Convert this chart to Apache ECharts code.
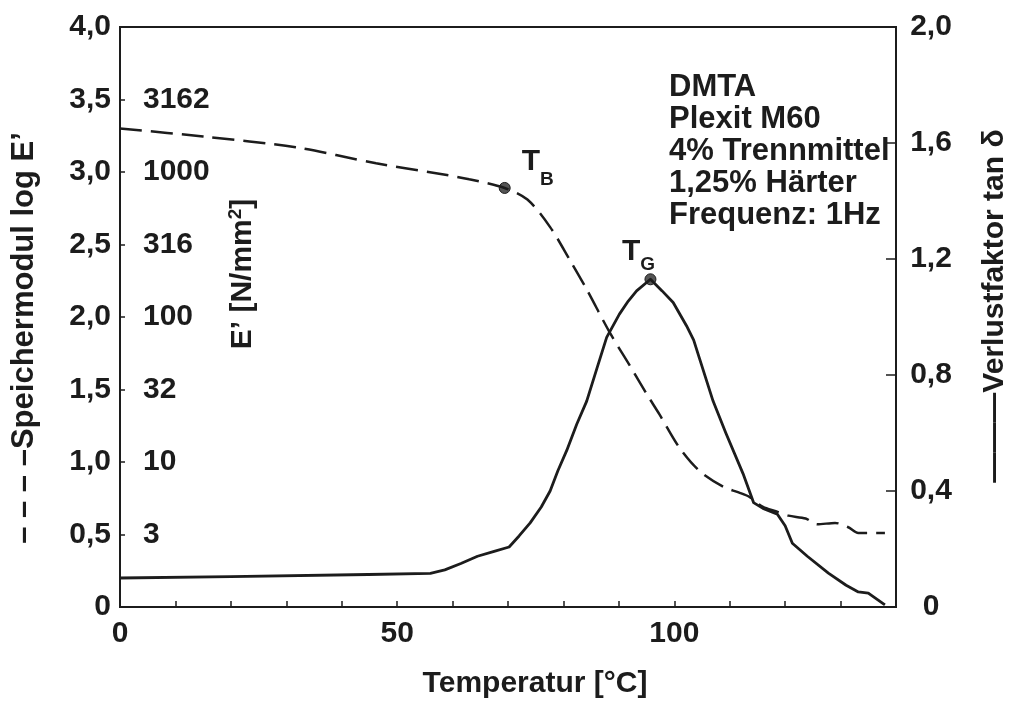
<!DOCTYPE html>
<html>
<head>
<meta charset="utf-8">
<script src="https://cdn.jsdelivr.net/npm/echarts@6/dist/echarts.min.js"></script>
<style>html,body{margin:0;padding:0;background:#fff}#c{width:1018px;height:707px}</style>
</head>
<body>
<div id="c"></div>
<script>
// ---- data ----
const tempE = [0, 15, 31.7, 46.2, 57.3, 63, 69.4, 73.5, 77.6, 81.2, 84.2, 88.4, 91.9, 95, 97.3, 100.9, 104.5, 108.8, 111.6, 113.5, 116, 118.3, 120.6, 123.7, 125.8, 129, 131.4, 133.2, 138];
const logE  = [3.30, 3.245, 3.17, 3.06, 2.99, 2.95, 2.89, 2.81, 2.62, 2.39, 2.19, 1.89, 1.67, 1.47, 1.33, 1.10, 0.94, 0.83, 0.79, 0.76, 0.69, 0.66, 0.63, 0.61, 0.57, 0.58, 0.55, 0.51, 0.51];
const tempT = [0, 20, 44.8, 56, 58.6, 61.5, 64.5, 67.5, 70.2, 72, 74, 76, 77.6, 79, 80.6, 82.4, 84.2, 86, 87.8, 90.1, 91.7, 93.2, 95.7, 97.8, 99.8, 102.2, 103.5, 104.5, 107, 109.3, 112.4, 114.3, 116, 118.6, 120, 121.3, 124, 127.8, 131, 133.2, 135, 138];
const tanD  = [0.10, 0.105, 0.112, 0.116, 0.128, 0.150, 0.175, 0.192, 0.207, 0.245, 0.29, 0.345, 0.40, 0.47, 0.54, 0.63, 0.71, 0.82, 0.93, 1.01, 1.055, 1.09, 1.13, 1.09, 1.05, 0.97, 0.92, 0.86, 0.71, 0.60, 0.46, 0.36, 0.34, 0.32, 0.28, 0.22, 0.175, 0.117, 0.075, 0.052, 0.048, 0.007];
const pointTB = [69.4, 2.89];
const pointTG = [95.7, 1.13];
const eModulLabels = ['', '3', '10', '32', '100', '316', '1000', '3162', ''];
const xLabelValues = [0, 50, 100];
const infoLines = ['DMTA', 'Plexit M60', '4% Trennmittel', '1,25% Härter', 'Frequenz: 1Hz'];

const FONT = '"Liberation Sans", Arial, sans-serif';
const INK = '#1c1c1c';
const comma = v => v === 0 ? '0' : v.toFixed(1).replace('.', ',');

const chart = echarts.init(document.getElementById('c'), null, {renderer: 'canvas'});
chart.setOption({
  animation: false,
  backgroundColor: '#fff',
  textStyle: {fontFamily: FONT, fontWeight: 'bold', color: INK},
  grid: {left: 120, right: 115, top: 27, bottom: 100, show: true, borderColor: INK, borderWidth: 2, backgroundColor: 'transparent'},
  xAxis: {
    type: 'value', min: 0, max: 140, interval: 10,
    axisLine: {lineStyle: {color: INK, width: 2}},
    axisTick: {inside: true, length: 6, lineStyle: {color: INK, width: 1.5}},
    splitLine: {show: false},
    axisLabel: {margin: 12, fontSize: 30, fontFamily: FONT, fontWeight: 'bold', color: INK,
      formatter: v => xLabelValues.indexOf(v) >= 0 ? String(v) : ''},
    name: 'Temperatur [°C]', nameLocation: 'middle', nameGap: 62,
    nameTextStyle: {fontSize: 30, fontFamily: FONT, fontWeight: 'bold', color: INK, padding: [0, 0, 0, 54]}
  },
  yAxis: [
    {
      type: 'value', position: 'left', min: 0, max: 4, interval: 0.5,
      axisLine: {show: true, lineStyle: {color: INK, width: 2}},
      axisTick: {show: true, inside: true, length: 5, lineStyle: {color: INK, width: 1.5}},
      splitLine: {show: false},
      axisLabel: {margin: 9, fontSize: 30, fontFamily: FONT, fontWeight: 'bold', color: INK, formatter: comma},
      name: '– – – –Speichermodul log E’', nameLocation: 'middle', nameRotate: 90, nameGap: 80,
      nameTextStyle: {fontSize: 31, fontFamily: FONT, fontWeight: 'bold', color: INK, padding: [0, 42, 0, 0]}
    },
    {
      type: 'value', position: 'left', min: 0, max: 4, interval: 0.5,
      axisLine: {show: false}, axisTick: {show: false}, splitLine: {show: false},
      axisLabel: {inside: true, margin: 23, align: 'left', fontSize: 30, fontFamily: FONT, fontWeight: 'bold', color: INK,
        formatter: (v) => eModulLabels[Math.round(v / 0.5)] || ''}
    },
    {
      type: 'value', position: 'right', min: 0, max: 2, interval: 0.4,
      axisLine: {show: true, lineStyle: {color: INK, width: 2}},
      axisTick: {show: true, inside: true, length: 10, lineStyle: {color: INK, width: 1.5}},
      splitLine: {show: false},
      axisLabel: {margin: 35, align: 'center', fontSize: 30, fontFamily: FONT, fontWeight: 'bold', color: INK, formatter: comma},
      name: '———Verlustfaktor tan δ', nameLocation: 'middle', nameRotate: 90, nameGap: 84,
      nameTextStyle: {fontSize: 30, fontFamily: FONT, fontWeight: 'bold', color: INK, padding: [0, 0, 0, 22]}
    }
  ],
  series: [
    {
      type: 'line', yAxisIndex: 0, smooth: 0.3, showSymbol: false,
      data: tempE.map((t, i) => [t, logE[i]]),
      lineStyle: {color: INK, width: 2.5, type: [22, 9]}
    },
    {
      type: 'line', yAxisIndex: 2, smooth: false, showSymbol: false,
      data: tempT.map((t, i) => [t, tanD[i]]),
      lineStyle: {color: INK, width: 2.8, join: 'round'}
    },
    {
      type: 'scatter', yAxisIndex: 0, symbol: 'circle', symbolSize: 11,
      itemStyle: {color: '#555', borderColor: INK, borderWidth: 1, opacity: 1},
      data: [pointTB],
      label: {show: true, color: INK, position: 'right', offset: [6, -20], formatter: '{t|T}{s|B}',
        rich: {t: {fontSize: 30, fontFamily: FONT, fontWeight: 'bold', color: INK, verticalAlign: 'bottom', padding: [0, 0, 12, 0]},
               s: {fontSize: 19, fontFamily: FONT, fontWeight: 'bold', color: INK, verticalAlign: 'bottom'}}}
    },
    {
      type: 'scatter', yAxisIndex: 2, symbol: 'circle', symbolSize: 11,
      itemStyle: {color: '#555', borderColor: INK, borderWidth: 1, opacity: 1},
      data: [pointTG],
      label: {show: true, color: INK, position: 'top', offset: [-12, 6], formatter: '{t|T}{s|G}',
        rich: {t: {fontSize: 30, fontFamily: FONT, fontWeight: 'bold', color: INK, verticalAlign: 'bottom', padding: [0, 0, 8, 0]},
               s: {fontSize: 19, fontFamily: FONT, fontWeight: 'bold', color: INK, verticalAlign: 'bottom'}}}
    }
  ],
  graphic: [
    {
      type: 'text', left: 669, top: 71,
      style: {text: infoLines.join('\n'), font: 'bold 31px ' + FONT, fill: INK, lineHeight: 32}
    },
    {
      type: 'text', x: 242, y: 274, rotation: Math.PI / 2,
      style: {text: '{a|E’ [N/mm}{b|2}{a|]}', align: 'center', verticalAlign: 'middle',
        rich: {a: {font: 'bold 30px ' + FONT, fill: INK, verticalAlign: 'bottom'},
               b: {font: 'bold 19px ' + FONT, fill: INK, verticalAlign: 'bottom', padding: [0, 0, 13, 0]}}}
    }
  ]
});
</script>
</body>
</html>
